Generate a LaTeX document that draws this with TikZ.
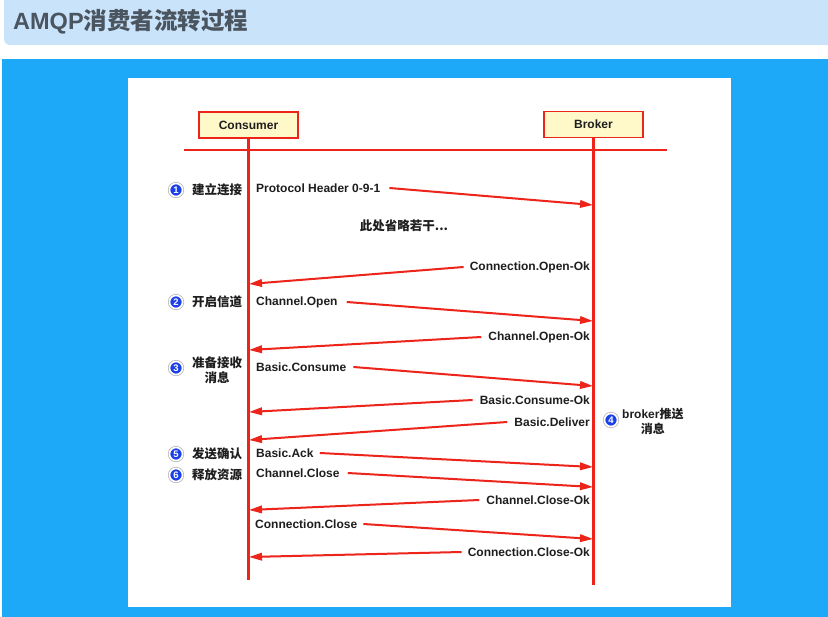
\documentclass[tikz,border=0pt]{standalone}
\usepackage{fontspec}
\setmainfont{Liberation Sans}
\newfontfamily\cjk{Noto Sans CJK SC}
\usetikzlibrary{arrows.meta}
\definecolor{titlebg}{RGB}{201,227,251}
\definecolor{bluebg}{RGB}{30,168,248}
\definecolor{titletxt}{RGB}{75,85,95}
\definecolor{linered}{RGB}{236,36,26}
\definecolor{boxfill}{RGB}{255,248,200}
\definecolor{txt}{RGB}{30,30,30}
\definecolor{numblue}{RGB}{28,64,232}
\begin{document}
\begin{tikzpicture}[x=1pt,y=-1pt,
  lifeline/.style={draw=linered,line width=2.5pt},
  msg/.style={draw=linered,line width=2pt,-{Triangle[length=13pt,width=7.5pt]}},
  actor/.style={draw=linered,fill=boxfill,line width=1.5pt,minimum width=99pt,minimum height=26pt,inner sep=0pt,text=txt,font=\bfseries\fontsize{12}{14}\selectfont},
  lbl/.style={font=\bfseries\fontsize{12}{14}\selectfont,text=txt,inner sep=0pt},
  cn/.style={font=\cjk\bfseries\fontsize{12.5}{15}\selectfont,text=txt,inner sep=0pt,align=center},
  num/.style={circle,fill=numblue,draw=white,line width=1.6pt,preaction={draw=gray!55,line width=3.2pt},minimum size=13pt,inner sep=0pt,text=white,font=\bfseries\fontsize{9.5}{9.5}\selectfont}]
\useasboundingbox (0,0) rectangle (828,617);
\fill[white] (0,0) rectangle (828,617);
% title bar
\fill[titlebg] (828,0) -- (4,0) [rounded corners=6pt] -- (4,45) [sharp corners] -- (828,45) -- cycle;
\node[anchor=west,inner sep=0pt,text=titletxt,font=\bfseries\fontsize{23.5}{26}\selectfont] (title) at (13,22) {AMQP{\cjk 消费者流转过程}};
% blue area and white panel
\fill[bluebg] (2,59) rectangle (828,617);
\fill[white] (128,78) rectangle (731,607);

% actors
\node[actor] (consumer) at (248.5,125) {Consumer};
\node[actor] (broker) at (593.5,124.5) {Broker};
\coordinate (hl1) at (184,150);
\coordinate (hl2) at (667,150);
\coordinate (cEnd) at (248.5,580);
\coordinate (bEnd) at (593.5,585);
\draw[lifeline] (hl1) -- (hl2);
\draw[lifeline] (consumer.south) -- (cEnd);
\draw[lifeline] (broker.south) -- (bEnd);

% step markers
\node[num] (s1) at (176,190) {1};
\node[cn,anchor=west] (t1) at (192,190) {建立连接};
\node[num] (s2) at (176,302) {2};
\node[cn,anchor=west] (t2) at (192,302) {开启信道};
\node[num] (s3) at (176,368) {3};
\node[cn,anchor=west] (t3) at (192,370) {准备接收\\消息};
\node[num] (s4) at (611,420) {4};
\node[lbl,align=center,anchor=west] (t4) at (622,421) {broker{\cjk 推送}\\[1pt]{\cjk 消息}};
\node[num] (s5) at (176,454) {5};
\node[cn,anchor=west] (t5) at (192,454) {发送确认};
\node[num] (s6) at (176,475) {6};
\node[cn,anchor=west] (t6) at (192,475) {释放资源};

% note
\node[cn] (note) at (404,226) {此处省略若干...};

% messages: labels
\node[lbl,anchor=west] (m1) at (256,188) {Protocol Header 0-9-1};
\node[lbl,anchor=east] (m3) at (590,267) {Connection.Open-Ok};
\node[lbl,anchor=west] (m4) at (256,302) {Channel.Open};
\node[lbl,anchor=east] (m5) at (590,337) {Channel.Open-Ok};
\node[lbl,anchor=west] (m6) at (256,367) {Basic.Consume};
\node[lbl,anchor=east] (m7) at (590,400) {Basic.Consume-Ok};
\node[lbl,anchor=east] (m8) at (590,422) {Basic.Deliver};
\node[lbl,anchor=west] (m9) at (256,453) {Basic.Ack};
\node[lbl,anchor=west] (m10) at (256,473) {Channel.Close};
\node[lbl,anchor=east] (m11) at (590,500) {Channel.Close-Ok};
\node[lbl,anchor=west] (m12) at (255,524) {Connection.Close};
\node[lbl,anchor=east] (m13) at (590,552) {Connection.Close-Ok};

% message ends on lifelines
\coordinate (e1) at (593,205);
\coordinate (e3) at (249,284);
\coordinate (e4) at (593,321);
\coordinate (e5) at (249,350);
\coordinate (e6) at (593,386);
\coordinate (e7) at (249,412);
\coordinate (e8) at (249,440);
\coordinate (e9) at (593,467);
\coordinate (e10) at (593,487);
\coordinate (e11) at (249,510);
\coordinate (e12) at (593,539);
\coordinate (e13) at (249,557);

\draw[msg] ([xshift=9pt]m1.east) -- (e1);
\draw[msg] ([xshift=-6pt]m3.west) -- (e3);
\draw[msg] ([xshift=9pt]m4.east) -- (e4);
\draw[msg] ([xshift=-7pt]m5.west) -- (e5);
\draw[msg] ([xshift=7pt]m6.east) -- (e6);
\draw[msg] ([xshift=-7pt]m7.west) -- (e7);
\draw[msg] ([xshift=-7pt]m8.west) -- (e8);
\draw[msg] ([xshift=6pt]m9.east) -- (e9);
\draw[msg] ([xshift=8pt]m10.east) -- (e10);
\draw[msg] ([xshift=-7pt]m11.west) -- (e11);
\draw[msg] ([xshift=6pt]m12.east) -- (e12);
\draw[msg] ([xshift=-6pt]m13.west) -- (e13);
\end{tikzpicture}
\end{document}
